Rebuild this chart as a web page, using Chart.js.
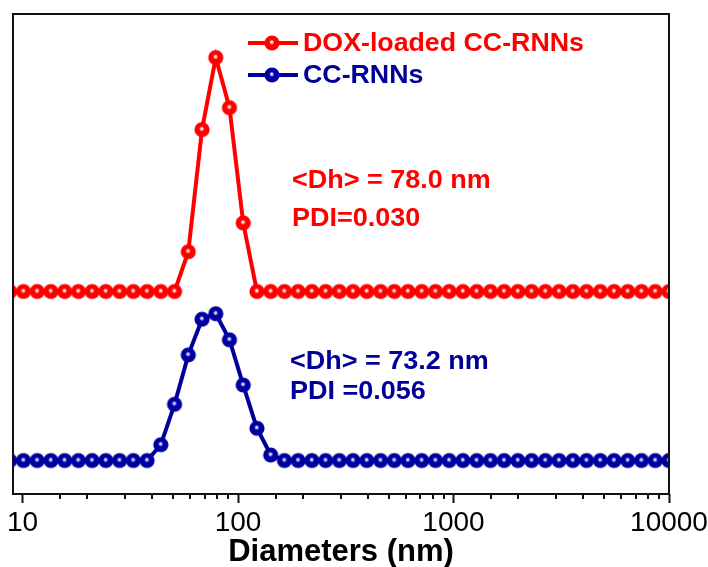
<!DOCTYPE html>
<html><head><meta charset="utf-8">
<script src="https://cdn.jsdelivr.net/npm/chart.js@4"></script>
<style>html,body{margin:0;padding:0;background:#fff}#wrap{width:708px;height:567px}</style>
</head><body><div id="wrap"><canvas id="c" width="708" height="567"></canvas></div>
<script>
// Size bins (nm)
const diameters = [8.721, 10.10, 11.70, 13.54, 15.69, 18.17, 21.04, 24.36, 28.21, 32.67,
  37.84, 43.82, 50.75, 58.77, 68.06, 78.82, 91.28, 105.7, 122.4, 141.8,
  164.2, 190.1, 220.2, 255.0, 295.3, 342.0, 396.1, 458.7, 531.2, 615.1,
  712.4, 825.0, 955.4, 1106, 1281, 1484, 1718, 1990, 2305, 2669,
  3091, 3580, 4145, 4801, 5560, 6439, 7456, 8635, 10000];
// Intensity (%) – DOX-loaded CC-RNNs
const doxLoaded = [0, 0, 0, 0, 0, 0, 0, 0, 0, 0,
  0, 0, 0, 5.8, 23.6, 34.1, 26.8, 10.0, 0, 0,
  0, 0, 0, 0, 0, 0, 0, 0, 0, 0,
  0, 0, 0, 0, 0, 0, 0, 0, 0, 0,
  0, 0, 0, 0, 0, 0, 0, 0, 0];
// Intensity (%) – CC-RNNs
const ccRnns = [0, 0, 0, 0, 0, 0, 0, 0, 0, 0,
  0, 2.3, 8.2, 15.4, 20.6, 21.4, 17.6, 11.0, 4.7, 0.8,
  0, 0, 0, 0, 0, 0, 0, 0, 0, 0,
  0, 0, 0, 0, 0, 0, 0, 0, 0, 0,
  0, 0, 0, 0, 0, 0, 0, 0, 0];
const xTickLabels = [10, 100, 1000, 10000];
const seriesNames = ['DOX-loaded CC-RNNs', 'CC-RNNs'];
const annotations = [
  ['<Dh> = 78.0 nm', 'PDI=0.030'],
  ['<Dh> = 73.2 nm', 'PDI =0.056']
];

const RED = '#ff0000', BLUE = '#000099';
const FONT = "'Liberation Sans', Arial, sans-serif";

function makeBall(light, mid, base, r) {
  const c = document.createElement('canvas');
  const s = Math.ceil(r * 2) + 2;
  c.width = c.height = s;
  const g = c.getContext('2d');
  const cx = s / 2, cy = s / 2;
  const grad = g.createRadialGradient(cx - 0.3, cy - 1.0, 0.2, cx, cy, r);
  grad.addColorStop(0, light);
  grad.addColorStop(0.13, mid);
  grad.addColorStop(0.33, base);
  grad.addColorStop(1, base);
  g.fillStyle = grad;
  g.beginPath(); g.arc(cx, cy, r, 0, Math.PI * 2); g.fill();
  return c;
}
const redBall = makeBall('#ffffff', '#ffc8c8', '#ff0000', 7.6);
const blueBall = makeBall('#ffffff', '#b8b8ee', '#0000a0', 7.6);

const isMajor = v => Math.abs(Math.log10(v) - Math.round(Math.log10(v))) < 1e-6;

const decorPlugin = {
  id: 'decor',
  afterDatasetsDraw(chart) {
    const {ctx, chartArea: a} = chart;
    ctx.save();
    ctx.strokeStyle = '#111';
    ctx.lineWidth = 2;
    ctx.strokeRect(a.left, a.top, a.right - a.left, a.bottom - a.top);
    // minor ticks
    const xs = chart.scales.x;
    ctx.beginPath();
    xs.ticks.forEach(t => {
      if (!isMajor(t.value)) {
        const px = Math.round(xs.getPixelForValue(t.value));
        if (px > a.left + 1 && px < a.right - 1) {
          ctx.moveTo(px, a.bottom); ctx.lineTo(px, a.bottom + 5);
        }
      }
    });
    ctx.stroke();
    ctx.restore();
  },
  afterDraw(chart) {
    const {ctx} = chart;
    ctx.save();
    // legend
    const items = [[RED, redBall, 43], [BLUE, blueBall, 75]];
    items.forEach(([col, ball, y], i) => {
      ctx.strokeStyle = col; ctx.lineWidth = 4;
      ctx.beginPath(); ctx.moveTo(248, y); ctx.lineTo(298, y); ctx.stroke();
      ctx.drawImage(ball, 272 - ball.width / 2, y - ball.height / 2);
      ctx.fillStyle = col;
      ctx.font = 'bold 25px ' + FONT;
      ctx.textBaseline = 'middle';
      ctx.save(); ctx.translate(303, y + 1); ctx.scale(1.07, 1);
      ctx.fillText(seriesNames[i], 0, 0);
      ctx.restore();
    });
    // annotations
    const ann = [[RED, 292, [180, 218]], [BLUE, 290, [361, 391]]];
    ann.forEach(([col, x, ys], i) => {
      ctx.fillStyle = col;
      ctx.font = 'bold 25px ' + FONT;
      ctx.textBaseline = 'middle';
      ys.forEach((y, j) => {
        ctx.save(); ctx.translate(x, y + 1); ctx.scale(1.08, 1);
        ctx.fillText(annotations[i][j], 0, 0);
        ctx.restore();
      });
    });
    ctx.restore();
  }
};

new Chart(document.getElementById('c'), {
  type: 'line',
  data: {
    datasets: [
      {
        label: seriesNames[0],
        data: diameters.map((d, i) => ({x: d, y: doxLoaded[i]})),
        yAxisID: 'yDox',
        borderColor: RED, backgroundColor: RED, borderWidth: 4,
        pointStyle: redBall, pointRadius: 7, tension: 0
      },
      {
        label: seriesNames[1],
        data: diameters.map((d, i) => ({x: d, y: ccRnns[i]})),
        yAxisID: 'yCC',
        borderColor: BLUE, backgroundColor: BLUE, borderWidth: 4,
        pointStyle: blueBall, pointRadius: 7, tension: 0
      }
    ]
  },
  options: {
    responsive: false, animation: false, devicePixelRatio: 1,
    layout: {padding: {left: 13, right: 39, top: 14, bottom: 0}},
    plugins: {legend: {display: false}, tooltip: {enabled: false}},
    scales: {
      x: {
        type: 'logarithmic', min: 9.03, max: 10000, position: 'bottom',
        border: {display: false},
        grid: {
          drawOnChartArea: false, drawTicks: true, tickLength: 9, tickWidth: 2,
          tickColor: c => (c.tick && isMajor(c.tick.value)) ? '#111' : 'rgba(0,0,0,0)'
        },
        ticks: {
          autoSkip: false, maxRotation: 0, color: '#000', padding: 3,
          font: {family: FONT, size: 28},
          callback: v => xTickLabels.includes(v) ? String(v) : ''
        },
        title: {
          display: true, text: 'Diameters (nm)', color: '#000', padding: {top: 0, bottom: -4},
          font: {family: FONT, size: 31, weight: 'bold'}
        },
        afterFit: s => { s.height = 73; s.paddingLeft = 0; s.paddingRight = 0; }
      },
      yDox: {display: false, min: -29.52, max: 40.45},
      yCC: {display: false, min: -4.88, max: 65.09}
    }
  },
  plugins: [decorPlugin]
});
</script>
</body></html>
